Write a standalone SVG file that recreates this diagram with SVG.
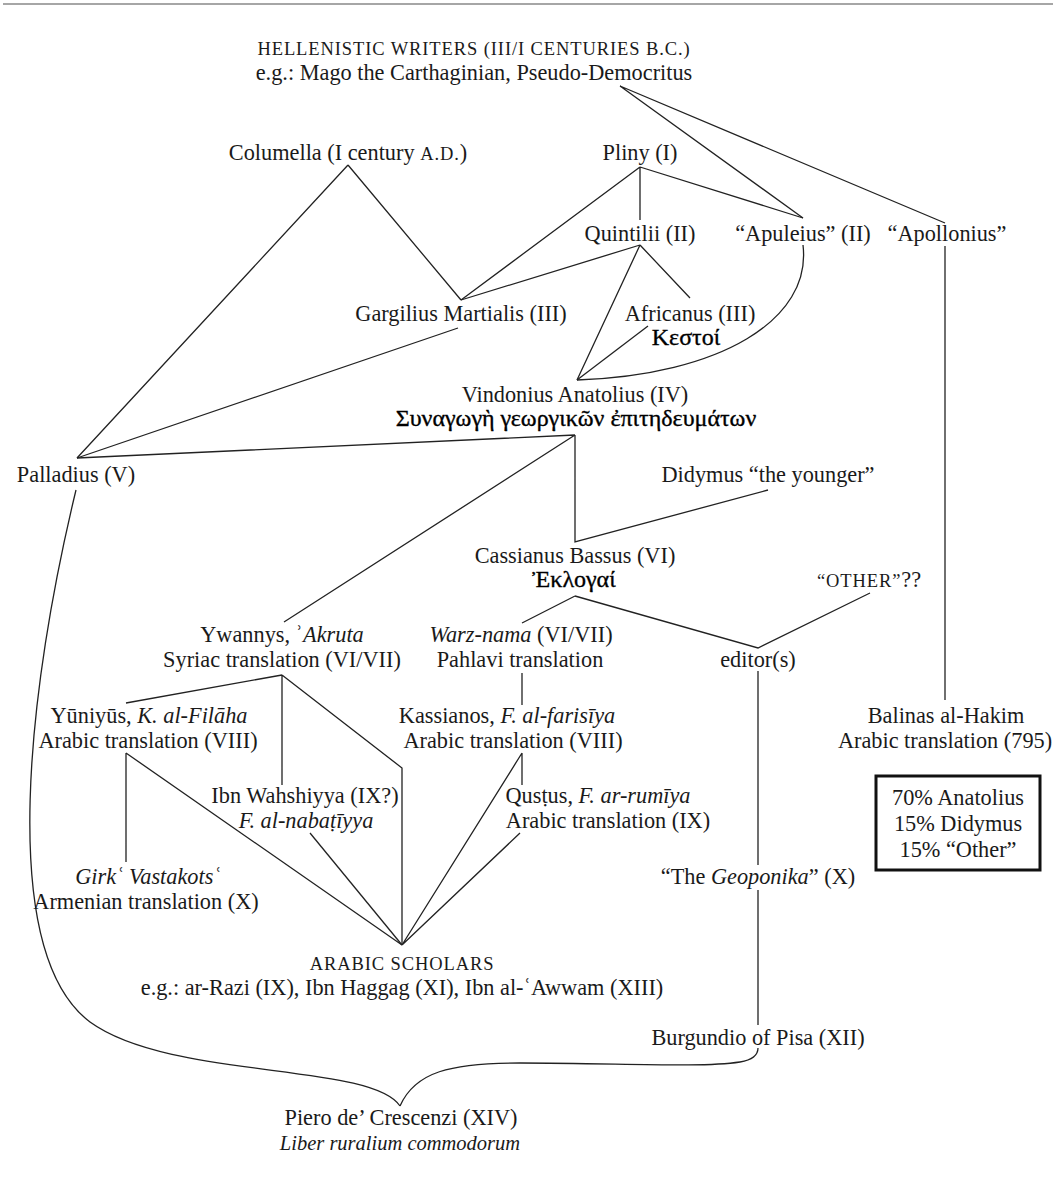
<svg xmlns="http://www.w3.org/2000/svg" width="1056" height="1178" viewBox="0 0 1056 1178">
<style>
text{font-family:"Liberation Serif","Times New Roman",serif;font-size:22.3px;fill:#1a1a1a;text-anchor:middle}
.it{font-style:italic}
.sc{font-size:18.5px;letter-spacing:0.9px}
.gr{font-size:24px;fill:#000;stroke:#000;stroke-width:0.35}
.sm{font-size:20.5px}
.c{fill:none;stroke:#222;stroke-width:1.3}
</style>
<rect width="1056" height="1178" fill="#fff"/>
<line x1="3" y1="4" x2="1053" y2="4" stroke="#888" stroke-width="1.5"/>
<g id="connectors" class="c">
<path d="M620,86 L803,218 M620,86 L945,223"/>
<path d="M640,167 L461,300 M640,167 L640,220 M640,167 L803,218"/>
<path d="M348,165 L77,458 M348,165 L461,300"/>
<path d="M640,245 L461,300 M640,245 L690,298 M640,245 L577,380"/>
<path d="M648,326 L577,380"/>
<path d="M803,245 C812,320 720,375 577,380"/>
<path d="M458,328 L77,458"/>
<path d="M575,435 L77,458 M575,435 L284,622 M575,435 L575,542 L768,490"/>
<path d="M575,596 L522,623 M575,596 L758,648 L870,593"/>
<path d="M758,671 L758,865 M758,890 L758,1025"/>
<path d="M282,675 L126,703 M282,675 L282,785 M282,675 L402,768 L402,945"/>
<path d="M126,753 L126,862 M126,753 L402,945"/>
<path d="M310,833 L402,945"/>
<path d="M522,753 L522,785 M522,753 L402,945 M520,833 L402,945"/>
<path d="M522,673 L522,705"/>
<path d="M945,246 L945,700"/>
<path d="M76,490 C30,680 -5,950 90,1022 C170,1080 370,1062 400,1106"/>
<path d="M400,1106 C415,1072 450,1063 520,1063 C620,1063 700,1068 740,1062 C752,1060 758,1055 758,1048"/>
</g>
<g id="hellenistic"><text x="474" y="55" class="sc">HELLENISTIC WRITERS (III/I CENTURIES B.C.)</text><text x="474" y="80">e.g.: Mago the Carthaginian, Pseudo-Democritus</text></g>
<g id="columella"><text x="348" y="160">Columella (I century <tspan class="sc">A.D.</tspan>)</text></g>
<g id="pliny"><text x="640" y="160">Pliny (I)</text></g>
<g id="quintilii"><text x="640" y="241">Quintilii (II)</text></g>
<g id="apuleius"><text x="803" y="241">“Apuleius” (II)</text></g>
<g id="apollonius"><text x="947" y="241">“Apollonius”</text></g>
<g id="gargilius"><text x="461" y="321">Gargilius Martialis (III)</text></g>
<g id="africanus"><text x="690" y="321">Africanus (III)</text><text x="686" y="345" class="gr">Κεστοί</text></g>
<g id="anatolius"><text x="575" y="402">Vindonius Anatolius (IV)</text><text x="576" y="426" class="gr">Συναγωγὴ γεωργικῶν ἐπιτηδευμάτων</text></g>
<g id="palladius"><text x="76" y="482">Palladius (V)</text></g>
<g id="didymus"><text x="768" y="482">Didymus “the younger”</text></g>
<g id="cassianus"><text x="575" y="563">Cassianus Bassus (VI)</text><text x="574" y="587" class="gr">Ἐκλογαί</text></g>
<g id="other"><text x="869" y="587"><tspan class="sc">“OTHER”</tspan>??</text></g>
<g id="ywannys"><text x="282" y="642">Ywannys, ʾ<tspan class="it">Akruta</tspan></text><text x="282" y="667">Syriac translation (VI/VII)</text></g>
<g id="warznama"><text x="521" y="642"><tspan class="it">Warz-nama</tspan> (VI/VII)</text><text x="520" y="667">Pahlavi translation</text></g>
<g id="editors"><text x="758" y="667">editor(s)</text></g>
<g id="yuniyus"><text x="149" y="723">Yūniyūs, <tspan class="it">K. al-Filāha</tspan></text><text x="148" y="748">Arabic translation (VIII)</text></g>
<g id="kassianos"><text x="507" y="723">Kassianos, <tspan class="it">F. al-farisīya</tspan></text><text x="513" y="748">Arabic translation (VIII)</text></g>
<g id="balinas"><text x="946" y="723">Balinas al-Hakim</text><text x="945" y="748">Arabic translation (795)</text></g>
<g id="wahshiyya"><text x="305" y="803">Ibn Wahshiyya (IX?)</text><text x="306" y="828" class="it">F. al-nabaṭīyya</text></g>
<g id="qustus"><text x="598" y="803">Qusṭus, <tspan class="it">F. ar-rumīya</tspan></text><text x="608" y="828">Arabic translation (IX)</text></g>
<g id="box"><rect x="876" y="776" width="164" height="94" fill="none" stroke="#111" stroke-width="3"/><text x="958" y="805">70% Anatolius</text><text x="958" y="831">15% Didymus</text><text x="958" y="857">15% “Other”</text></g>
<g id="girk"><text x="148" y="884" class="it">Girkʿ Vastakotsʿ</text><text x="146" y="909">Armenian translation (X)</text></g>
<g id="geoponika"><text x="758" y="884">“The <tspan class="it">Geoponika</tspan>” (X)</text></g>
<g id="arabic"><text x="402" y="970" class="sc">ARABIC SCHOLARS</text><text x="402" y="995">e.g.: ar-Razi (IX), Ibn Haggag (XI), Ibn al-ʿAwwam (XIII)</text></g>
<g id="burgundio"><text x="758" y="1045">Burgundio of Pisa (XII)</text></g>
<g id="piero"><text x="401" y="1125">Piero de’ Crescenzi (XIV)</text><text x="400" y="1150" class="it sm">Liber ruralium commodorum</text></g>
</svg>
